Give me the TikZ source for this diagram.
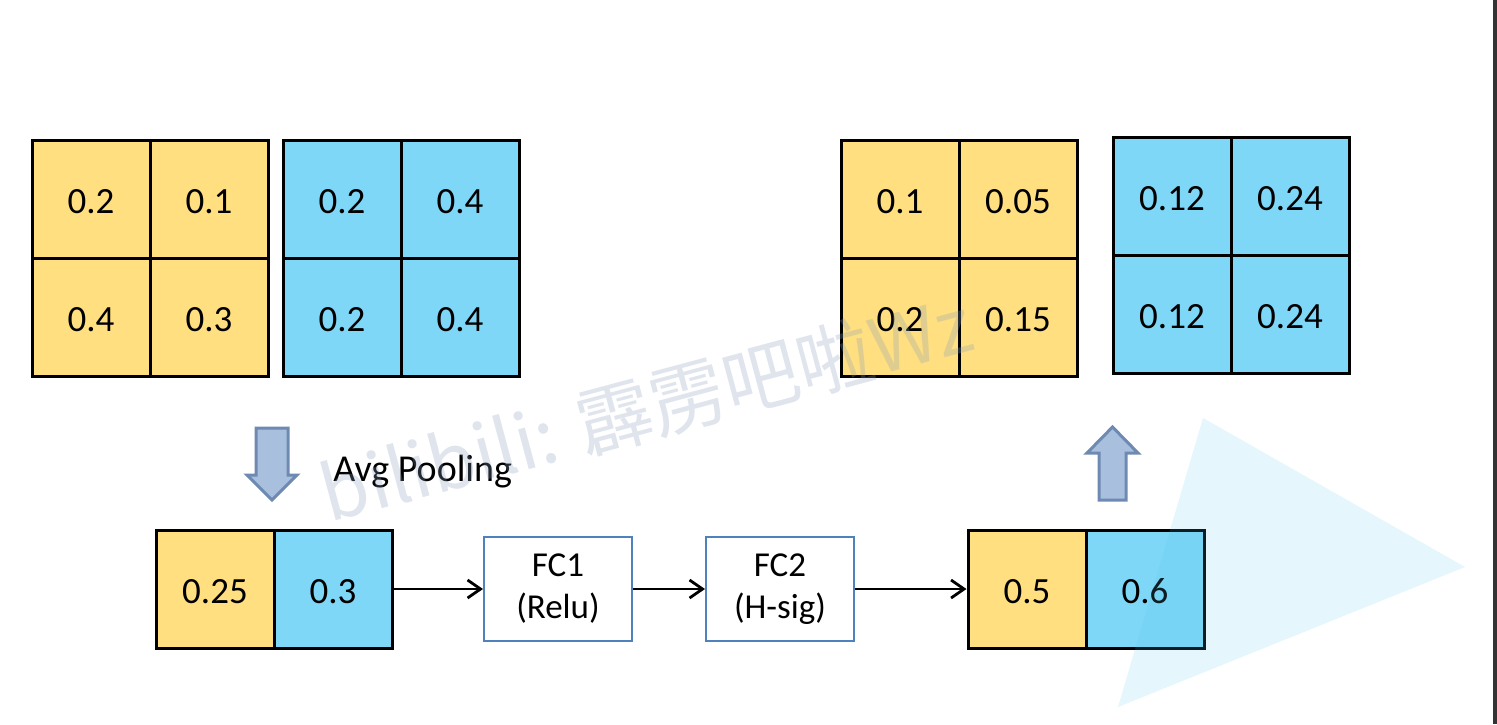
\documentclass[tikz,border=0pt]{standalone}
\usepackage{fontspec}
\setmainfont{Carlito}
\newfontfamily\cjkfont{Noto Sans CJK SC}
\usetikzlibrary{arrows.meta}
\definecolor{ylw}{RGB}{255,223,128}
\definecolor{blu}{RGB}{127,215,247}
\definecolor{fcb}{RGB}{79,129,189}
\definecolor{arf}{RGB}{169,191,222}
\definecolor{ard}{RGB}{110,138,178}
\definecolor{tri}{RGB}{82,195,235}
\definecolor{wm}{RGB}{140,160,190}
\begin{document}
\begin{tikzpicture}[x=0.5pt,y=-0.5pt,
  cell/.style={draw,line width=1.5pt,minimum width=59pt,minimum height=59pt,inner sep=0pt,text height=14.7pt,text depth=0pt,font=\fontsize{18.5}{20}\selectfont},
  yc/.style={cell,fill=ylw},
  bc/.style={cell,fill=blu},
  fcbox/.style={draw=fcb,line width=1pt,fill=white,minimum width=74pt,minimum height=52pt,inner sep=0pt,align=center,font=\fontsize{17.5}{21}\selectfont},
  flow/.style={-{Straight Barb[length=6.5pt,width=9pt,line width=1.4pt]},line width=1.4pt},
  blockarrow/.style={fill=arf,draw=ard,line width=1.5pt,line join=miter}]
\useasboundingbox (0,0) rectangle (1497,724);
% left yellow grid
\node[yc] (a11) at (91,199) {0.2};
\node[yc] (a12) at (209,199) {0.1};
\node[yc] (a21) at (91,317) {0.4};
\node[yc] (a22) at (209,317) {0.3};
% left blue grid
\node[bc] (b11) at (342,199) {0.2};
\node[bc] (b12) at (460,199) {0.4};
\node[bc] (b21) at (342,317) {0.2};
\node[bc] (b22) at (460,317) {0.4};
% right yellow grid
\node[yc] (c11) at (900,199) {0.1};
\node[yc] (c12) at (1018,199) {0.05};
\node[yc] (c21) at (900,317) {0.2};
\node[yc] (c22) at (1018,317) {0.15};
% right blue grid
\node[bc] (d11) at (1172,196) {0.12};
\node[bc] (d12) at (1290,196) {0.24};
\node[bc] (d21) at (1172,314) {0.12};
\node[bc] (d22) at (1290,314) {0.24};
% bottom row
\node[yc] (p1) at (215,589) {0.25};
\node[bc] (p2) at (333,589) {0.3};
\node[fcbox] (fc1) at (558,589) {FC1\\(Relu)};
\node[fcbox] (fc2) at (780,589) {FC2\\(H-sig)};
\node[yc] (s1) at (1027,589) {0.5};
\node[bc] (s2) at (1145,589) {0.6};
\draw[flow] (p2.east) -- (fc1.west);
\draw[flow] (fc1.east) -- (fc2.west);
\draw[flow] (fc2.east) -- (s1.west);
% block arrows
\draw[blockarrow] (256,428) -- (288,428) -- (288,475) -- (297,475) -- (272,500) -- (247,475) -- (256,475) -- cycle;
\node[anchor=base west,font=\fontsize{19}{21}\selectfont,inner sep=0pt] (avg) at (333,481) {Avg Pooling};
\draw[blockarrow] (1099,500) -- (1099,453) -- (1087,453) -- (1112.5,427) -- (1138,453) -- (1126,453) -- (1126,500) -- cycle;
% decorative triangle
\fill[tri,opacity=0.15] (1203,418) -- (1465,567) -- (1118,707) -- cycle;
% watermark
\node[rotate=15,text=wm,text opacity=0.27,font=\cjkfont\fontsize{38}{40}\selectfont,inner sep=0pt] (wmk) at (646,408) {bilibili: 霹雳吧啦Wz};
% right edge line
\fill[black!80] (1493,0) rectangle (1497,724);
\end{tikzpicture}
\end{document}
